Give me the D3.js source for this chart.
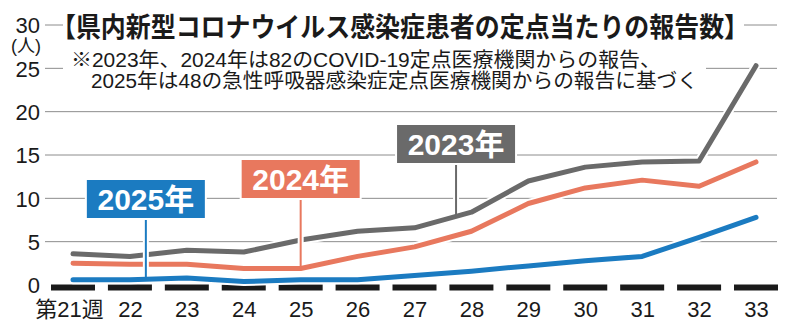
<!DOCTYPE html>
<html>
<head>
<meta charset="utf-8">
<script src="https://cdn.jsdelivr.net/npm/d3@7"></script>
<style>
  html, body { margin: 0; padding: 0; background: #fff; }
  svg { display: block; }
</style>
</head>
<body>
<script>
// ---------- data ----------
const weeks = [21, 22, 23, 24, 25, 26, 27, 28, 29, 30, 31, 32, 33];
const weekLabels = ["第21週", "22", "23", "24", "25", "26", "27", "28", "29", "30", "31", "32", "33"];
const yTicks = [0, 5, 10, 15, 20, 25, 30];
const series2023 = [3.6, 3.3, 4.0, 3.8, 5.2, 6.2, 6.6, 8.4, 12.0, 13.6, 14.2, 14.3, 25.3];
const series2024 = [2.5, 2.4, 2.4, 1.9, 1.9, 3.3, 4.4, 6.2, 9.4, 11.2, 12.1, 11.4, 14.2];
const series2025 = [0.6, 0.6, 0.8, 0.4, 0.6, 0.6, 1.1, 1.6, 2.2, 2.8, 3.3, 5.5, 7.8];
const seriesNames = ["2023年", "2024年", "2025年"];
const labelWeeks = [27.73, 25.0, 22.28]; // where each label's pointer touches its line
const titleText = "【県内新型コロナウイルス感染症患者の定点当たりの報告数】";
const noteLines = [
  "※2023年、2024年は82のCOVID-19定点医療機関からの報告、",
  "2025年は48の急性呼吸器感染症定点医療機関からの報告に基づく"
];
const unitText = "(人)";

// ---------- layout / style ----------
const W = 800, H = 330;
const colors = ["#6a6a6a", "#e8785e", "#1b7bc1"];
const boxTops = [125, 160, 180];
const JP = "'Noto Sans CJK JP', 'Noto Sans', sans-serif";
const NUM = "'Liberation Sans', Arial, 'Noto Sans CJK JP', sans-serif";

const x = d3.scaleLinear().domain([21, 33]).range([73, 756]);
const y = d3.scaleLinear().domain([0, 30]).range([285, 25]);
const gridX0 = 45, gridX1 = 777;

const svg = d3.select("body").append("svg").attr("width", W).attr("height", H);
svg.append("rect").attr("width", W).attr("height", H).attr("fill", "#fff");

// gridlines
svg.append("g").selectAll("line").data(yTicks.filter(d => d > 0)).join("line")
  .attr("x1", gridX0).attr("x2", gridX1)
  .attr("y1", d => y(d)).attr("y2", d => y(d))
  .attr("stroke", "#8c8c8c").attr("stroke-width", 1);

// white knock-outs behind the title and note
svg.append("rect").attr("x", 63).attr("y", 4).attr("width", 681).attr("height", 40).attr("fill", "#fff");
svg.append("rect").attr("x", 63).attr("y", 44).attr("width", 643).attr("height", 52).attr("fill", "#fff");

// title
svg.append("text")
  .attr("transform", "translate(51,37) scale(1,1.08)")
  .attr("font-family", JP).attr("font-weight", 700).attr("font-size", 25)
  .attr("fill", "#1a1a1a")
  .attr("textLength", 698).attr("lengthAdjust", "spacingAndGlyphs")
  .text(titleText);

// notes
svg.append("text").attr("x", 71).attr("y", 67)
  .attr("font-family", NUM).attr("font-size", 20).attr("fill", "#1a1a1a")
  .attr("textLength", 590).attr("lengthAdjust", "spacingAndGlyphs")
  .text(noteLines[0]);
svg.append("text").attr("x", 91).attr("y", 88)
  .attr("font-family", NUM).attr("font-size", 20).attr("fill", "#1a1a1a")
  .attr("textLength", 607).attr("lengthAdjust", "spacingAndGlyphs")
  .text(noteLines[1]);

// y axis labels
const yAxis = d3.axisLeft(y).tickValues(yTicks).tickSize(0).tickPadding(0);
const gy = svg.append("g").attr("transform", "translate(40,0)").call(yAxis);
gy.select(".domain").remove();
gy.selectAll("text")
  .attr("font-family", NUM).attr("font-size", 22).attr("fill", "#1a1a1a")
  .attr("dy", "0.36em");
svg.append("text").attr("x", 26).attr("y", 52).attr("text-anchor", "middle")
  .attr("font-family", NUM).attr("font-size", 18).attr("fill", "#1a1a1a").text(unitText);

// x axis: dashed baseline + labels
svg.append("g").selectAll("rect").data(weeks).join("rect")
  .attr("x", d => x(d) - 22).attr("width", 44)
  .attr("y", y(0) - 0.5).attr("height", 6)
  .attr("fill", "#1a1a1a");
const xAxis = d3.axisBottom(x).tickValues(weeks).tickSize(0)
  .tickFormat((d, i) => weekLabels[i]);
const gx = svg.append("g").attr("transform", "translate(0,317)").call(xAxis);
gx.select(".domain").remove();
gx.selectAll("text")
  .attr("y", 0).attr("dy", 0)
  .attr("font-family", NUM).attr("font-size", 22).attr("fill", "#1a1a1a");
gx.selectAll(".tick").filter((d, i) => i === 0).select("text").attr("dx", -4);

// series
const allSeries = [series2023, series2024, series2025];
const line = d3.line().x((d, i) => x(weeks[i])).y(d => y(d));
allSeries.forEach((s, k) => {
  svg.append("path").datum(s).attr("d", line)
    .attr("fill", "none").attr("stroke", "#fff").attr("stroke-width", 9)
    .attr("stroke-linejoin", "round").attr("stroke-linecap", "round");
  svg.append("path").datum(s).attr("d", line)
    .attr("fill", "none").attr("stroke", colors[k]).attr("stroke-width", 5)
    .attr("stroke-linejoin", "round").attr("stroke-linecap", "round");
});

// labels with pointers
function valueAt(s, w) {
  const i0 = Math.max(0, Math.min(weeks.length - 2, Math.floor(w - weeks[0])));
  const t = (w - weeks[i0]) / (weeks[i0 + 1] - weeks[i0]);
  return s[i0] + (s[i0 + 1] - s[i0]) * t;
}
const boxW = 118, boxH = 38;
seriesNames.forEach((name, k) => {
  const cx = x(labelWeeks[k]);
  const top = boxTops[k];
  const yEnd = y(valueAt(allSeries[k], labelWeeks[k]));
  svg.append("line").attr("x1", cx).attr("x2", cx).attr("y1", top + boxH).attr("y2", yEnd - 4)
    .attr("stroke", "#fff").attr("stroke-width", 6);
  svg.append("line").attr("x1", cx).attr("x2", cx).attr("y1", top + boxH).attr("y2", yEnd)
    .attr("stroke", colors[k]).attr("stroke-width", 2);
  svg.append("rect").attr("x", cx - boxW / 2).attr("y", top).attr("width", boxW).attr("height", boxH)
    .attr("fill", colors[k]).attr("stroke", "#fff").attr("stroke-width", 4);
  svg.append("rect").attr("x", cx - boxW / 2).attr("y", top).attr("width", boxW).attr("height", boxH)
    .attr("fill", colors[k]);
  svg.append("text").attr("x", cx).attr("y", top + 30).attr("text-anchor", "middle")
    .attr("font-family", NUM).attr("font-weight", 700).attr("font-size", 30)
    .attr("fill", "#fff").text(name);
});
</script>
</body>
</html>
